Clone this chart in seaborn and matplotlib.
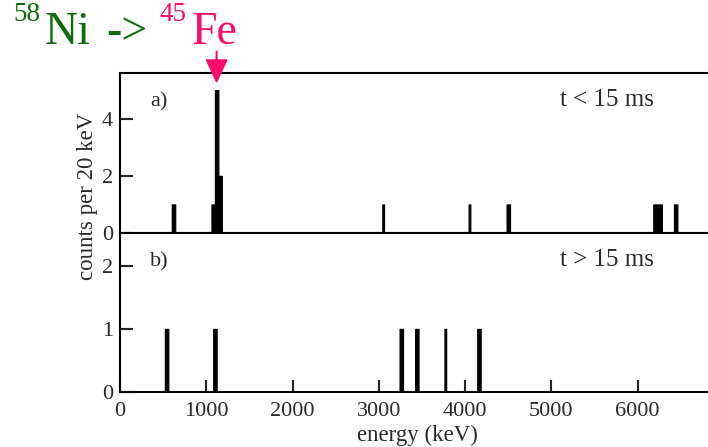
import matplotlib
matplotlib.use("Agg")
import matplotlib.pyplot as plt
import pandas as pd
import seaborn as sns

# Energy histograms, 20 keV bins: left bin edge (keV) and counts per bin
early_bins = [600, 620, 1060, 1080, 1100, 1120, 1140, 1160, 3040, 4040,
              4480, 4500, 6180, 6200, 6220, 6240, 6260, 6420, 6440]
early_counts = [1, 1, 1, 1, 5, 5, 2, 2, 1, 1,
                1, 1, 1, 1, 1, 1, 1, 1, 1]
late_bins = [520, 540, 1080, 1100, 3240, 3260, 3420, 3440, 3760, 4140, 4160]
late_counts = [1, 1, 1, 1, 1, 1, 1, 1, 1, 1, 1]

bin_width = 20
energy_range = (0, 7000)
energy_ticks = [0, 1000, 2000, 3000, 4000, 5000, 6000]
early_yticks = [0, 2, 4]
late_yticks = [0, 1, 2]
early_ylim = (0, 5.6)
late_ylim = (0, 2.52)
peak_energy = 1120  # 45Fe two-proton peak

panel_labels = ["a)", "b)"]
time_cuts = ["t < 15 ms", "t > 15 ms"]

GREEN = "#0b6e0b"
PINK = "#ff0a6c"
TEXT = "#2a2a2a"

sns.set_style("ticks")
plt.rcParams["font.family"] = ["Liberation Serif", "DejaVu Serif"]

W, H = 708, 447
fig = plt.figure(figsize=(W / 100, H / 100), dpi=100)

def px_box(left, top, right, bottom):
    return [left / W, 1 - bottom / H, (right - left) / W, (bottom - top) / H]

ax_a = fig.add_axes(px_box(120, 73, 724, 233))
ax_b = fig.add_axes(px_box(120, 233, 724, 392), sharex=ax_a)

early = pd.DataFrame({"energy": [b + bin_width / 2 for b in early_bins],
                      "counts": early_counts})
late = pd.DataFrame({"energy": [b + bin_width / 2 for b in late_bins],
                     "counts": late_counts})

for ax, df, ylim, yticks, lab, cut in [
    (ax_a, early, early_ylim, early_yticks, panel_labels[0], time_cuts[0]),
    (ax_b, late, late_ylim, late_yticks, panel_labels[1], time_cuts[1]),
]:
    sns.histplot(data=df, x="energy", weights="counts", binwidth=bin_width,
                 binrange=energy_range, element="step", fill=True, alpha=1,
                 color="black", edgecolor="black", linewidth=0.85, ax=ax)
    ax.set_xlim(*energy_range)
    ax.set_ylim(*ylim)
    ax.set_yticks(yticks)
    ax.set_xlabel("")
    ax.set_ylabel("")
    for s in ax.spines.values():
        s.set_linewidth(1.5)
        s.set_color("black")
        s.set_visible(True)
        s.set_zorder(5)
    ax.tick_params(axis="y", direction="in", length=9, width=1.5,
                   labelsize=16, labelcolor=TEXT, pad=5, left=True, right=False)
    ax.text(0.05, 0.82, lab, transform=ax.transAxes, fontsize=16,
            color=TEXT, va="center", ha="left")
    ax.text(0.728, 0.83, cut, transform=ax.transAxes, fontsize=18,
            color=TEXT, va="center", ha="left")

ax_a.tick_params(axis="x", length=0, labelbottom=False)
ax_b.set_xticks(energy_ticks)
ax_b.tick_params(axis="x", direction="in", length=9, width=1.5,
                 labelsize=16, labelcolor=TEXT, pad=7, top=False)

fig.text(88 / W, 1 - 196.5 / H, "counts per 20 keV", rotation=90,
         ha="center", va="center", fontsize=16.5, color=TEXT)
fig.text(417 / W, 1 - 435 / H, "energy (keV)", ha="center", va="center",
         fontsize=16.5, color=TEXT)

# Reaction title: 58Ni -> 45Fe
def ftxt(x, y, s, size, color):
    fig.text(x / W, 1 - y / H, s, fontsize=size, color=color,
             ha="left", va="baseline")

ftxt(13, 21, "58", 19.5, GREEN)
ftxt(45, 44, "Ni", 33, GREEN)
ftxt(106, 44, "->", 33, GREEN)
ftxt(159, 21, "45", 19.5, PINK)
ftxt(192, 44, "Fe", 33, PINK)

ax_a.annotate("", xy=(peak_energy, 5.23), xytext=(peak_energy, 6.35),
              xycoords="data", textcoords="data", annotation_clip=False,
              arrowprops=dict(arrowstyle="-|>,head_length=0.75,head_width=0.35",
                              color=PINK, lw=1.5, mutation_scale=20,
                              shrinkA=0, shrinkB=0), zorder=10)

fig.savefig("out.png", dpi=100)
